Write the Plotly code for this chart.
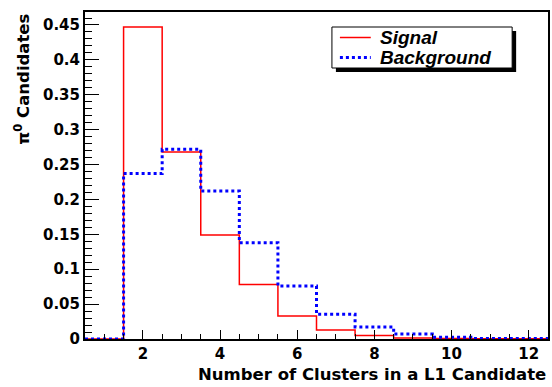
import plotly.graph_objects as go

# Bin edges for the number-of-clusters histogram (unit bins centred on integers)
bin_edges = [0.5, 1.5, 2.5, 3.5, 4.5, 5.5, 6.5, 7.5, 8.5, 9.5, 10.5, 11.5, 12.5]

# Normalised fractions per bin (clusters = 1 .. 12)
signal = [0.0, 0.447, 0.268, 0.149, 0.078, 0.033, 0.013, 0.005, 0.0015, 0.0008, 0.0004, 0.0003]
background = [0.0, 0.237, 0.272, 0.212, 0.138, 0.076, 0.0355, 0.0172, 0.0072, 0.0024, 0.0008, 0.0006]

series_names = ["Signal", "Background"]
series_colors = ["#ff0000", "#0000ff"]

y_ticks = [0, 0.05, 0.1, 0.15, 0.2, 0.25, 0.3, 0.35, 0.4, 0.45]
x_ticks = [2, 4, 6, 8, 10, 12]

W, H = 552, 387
ML, MR, MT, MB = 85, 2, 12, 48
PW, PH = W - ML - MR, H - MT - MB


def px_x(p):
    return (p - ML) / PW


def px_y(p):
    return (H - MB - p) / PH


def steps(vals):
    # step outline: one point per left edge, last value repeated at the right edge
    return list(vals) + [vals[-1]]


line_styles = [
    dict(color=series_colors[0], width=1.5),
    dict(color=series_colors[1], width=3, dash="dot"),
]

fig = go.Figure()
for name, vals, style in zip(series_names, [signal, background], line_styles):
    fig.add_trace(go.Scatter(
        x=bin_edges, y=steps(vals), mode="lines", line_shape="hv",
        line=style, name=name, showlegend=False,
    ))

tick_font = dict(family="DejaVu Sans", size=15, color="black", weight="bold")

fig.update_xaxes(
    range=[0.5, 12.5], tickvals=x_ticks, ticktext=[str(v) for v in x_ticks],
    ticks="inside", ticklen=9, tickwidth=1, tickcolor="black",
    minor=dict(tick0=0.5, dtick=0.5, ticks="inside", ticklen=5, tickcolor="black", showgrid=False),
    showline=True, linewidth=2, linecolor="black", mirror=True,
    showgrid=False, zeroline=False, tickfont=tick_font,
)
fig.update_yaxes(
    range=[0, 0.4686], tickvals=y_ticks, ticktext=[f"{v:g}" for v in y_ticks],
    ticks="inside", ticklen=14, tickwidth=1, tickcolor="black",
    minor=dict(tick0=0, dtick=0.01, ticks="inside", ticklen=7, tickcolor="black", showgrid=False),
    showline=True, linewidth=2, linecolor="black", mirror=True,
    showgrid=False, zeroline=False, tickfont=tick_font,
)

# legend frame with drop shadow
box = (333, 27, 514, 68)
shadow_off = 4
shapes = [
    dict(type="rect", xref="paper", yref="paper", layer="above",
         x0=px_x(box[0] + shadow_off), x1=px_x(box[2] + shadow_off),
         y0=px_y(box[3] + shadow_off), y1=px_y(box[1] + shadow_off),
         fillcolor="black", line=dict(width=0)),
    dict(type="rect", xref="paper", yref="paper", layer="above",
         x0=px_x(box[0]), x1=px_x(box[2]), y0=px_y(box[3]), y1=px_y(box[1]),
         fillcolor="white", line=dict(color="black", width=1)),
]

title_font = dict(family="DejaVu Sans", size=16.5, color="black", weight="bold")
legend_font = dict(family="Liberation Sans", size=19, color="black")
annotations = [
    dict(text="Number of Clusters in a L1 Candidate", xref="paper", yref="paper",
         x=1.0, y=px_y(374), xanchor="right", yanchor="middle", showarrow=False,
         font=title_font),
    dict(text="π<sup>0</sup> Candidates", xref="paper", yref="paper",
         x=px_x(21), y=1.0, xanchor="center", yanchor="top", textangle=-90,
         showarrow=False, font=title_font),
]

# legend entries: sample line + bold italic label per series
row_y = [37.5, 57.5]
for name, style, ry in zip(series_names, line_styles, row_y):
    shapes.append(dict(
        type="line", xref="paper", yref="paper", layer="above",
        x0=px_x(341), x1=px_x(372), y0=px_y(ry), y1=px_y(ry),
        line=dict(color=style["color"], width=style["width"], dash=style.get("dash", "solid")),
    ))
    annotations.append(dict(
        text=f"<b><i>{name}</i></b>", xref="paper", yref="paper",
        x=px_x(379), y=px_y(ry), xanchor="left", yanchor="middle",
        showarrow=False, font=legend_font,
    ))

fig.update_layout(
    width=W, height=H,
    margin=dict(l=ML, r=MR, t=MT, b=MB),
    paper_bgcolor="white", plot_bgcolor="white",
    shapes=shapes, annotations=annotations,
    showlegend=False,
)

fig.write_html("out.html")
